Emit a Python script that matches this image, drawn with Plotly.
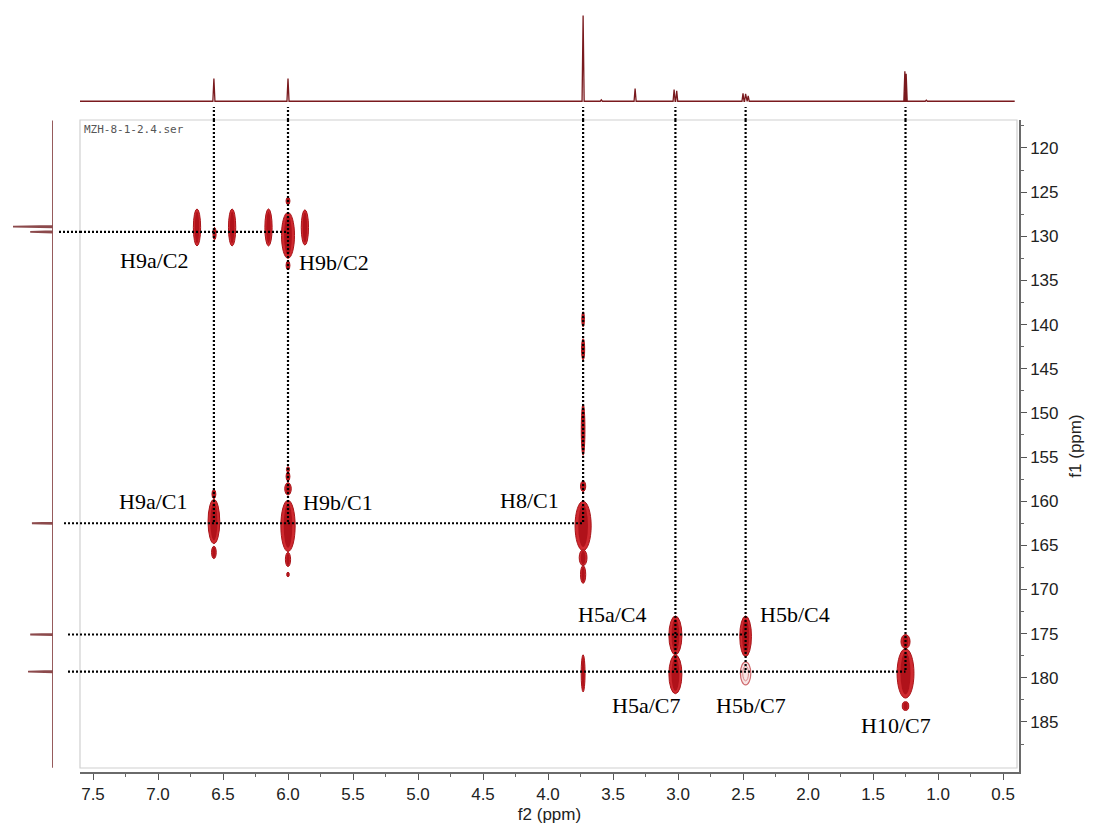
import plotly.graph_objects as go

# ---------------- data ----------------
# 1D proton projection (top): peak positions (ppm) and relative intensities
top_ppm = [6.57, 6.00, 3.73, 3.59, 3.33, 3.03, 3.01, 2.50, 2.48, 2.46, 1.255, 1.245, 1.09]
top_int = [25, 25, 94, 1.5, 13.8, 12.8, 11.5, 8.7, 8.2, 6.0, 33, 30, 1.2]

# 1D carbon projection (left): peak positions (ppm) and relative intensities
left_ppm = [128.9, 129.5, 162.5, 175.1, 179.3]
left_int = [0.93, 0.53, 0.49, 0.53, 0.58]

# HMBC cross peaks: f2 (ppm), f1 (ppm), half-width f2, half-height f1, style (1 = solid, 0 = faint)
pk_f2 = [6.70, 6.565, 6.43, 6.15, 6.00, 6.00, 6.00, 5.87,
         6.57, 6.57, 6.57,
         6.00, 6.00, 6.00, 6.00, 6.00, 6.00,
         3.73, 3.73, 3.73, 3.73, 3.73, 3.73, 3.73, 3.73,
         3.02, 3.02, 2.48, 2.48, 1.25, 1.25, 1.25]
pk_f1 = [129.0, 129.7, 129.0, 129.0, 129.9, 126.0, 133.3, 129.0,
         162.3, 159.2, 165.8,
         162.8, 158.6, 157.2, 156.4, 166.6, 168.3,
         139.4, 142.8, 151.9, 158.3, 162.8, 166.4, 168.3, 179.5,
         175.2, 179.6, 175.3, 179.5, 175.9, 179.5, 183.2]
pk_w = [0.028, 0.012, 0.028, 0.028, 0.050, 0.015, 0.015, 0.028,
        0.045, 0.015, 0.018,
        0.055, 0.025, 0.015, 0.012, 0.020, 0.010,
        0.010, 0.012, 0.014, 0.020, 0.062, 0.030, 0.020, 0.015,
        0.050, 0.050, 0.045, 0.040, 0.035, 0.065, 0.025]
pk_h = [2.1, 0.7, 2.1, 2.1, 2.6, 0.4, 0.5, 2.0,
        2.5, 0.5, 0.7,
        2.9, 0.7, 0.5, 0.3, 0.8, 0.25,
        0.85, 1.2, 2.9, 0.6, 2.8, 0.9, 1.0, 2.1,
        2.2, 2.2, 2.3, 1.3, 0.8, 2.8, 0.5]
pk_style = [1, 1, 1, 1, 1, 1, 1, 1,
            1, 1, 1,
            1, 1, 1, 1, 1, 1,
            1, 1, 1, 1, 1, 1, 1, 1,
            1, 1, 1, 0, 1, 1, 1]

# correlation guide lines
v_f2 = [6.57, 6.00, 3.73, 3.02, 2.48, 1.25]
v_end_f1 = [162.5, 162.5, 162.5, 179.3, 179.3, 179.3]
h_f1 = [129.5, 162.5, 175.1, 179.3]
h_end_f2 = [6.00, 3.73, 2.48, 1.25]
h_start_px = [59, 64, 68, 68]

# assignment labels
lab_text = ["H9a/C2", "H9b/C2", "H9a/C1", "H9b/C1", "H8/C1",
            "H5a/C4", "H5b/C4", "H5a/C7", "H5b/C7", "H10/C7"]
lab_f2 = [7.03, 5.65, 7.04, 5.615, 4.14, 3.51, 2.10, 3.25, 2.44, 1.32]
lab_f1 = [132.7, 133.0, 160.0, 160.1, 159.9, 172.8, 172.8, 183.1, 183.1, 185.35]

x_ticks = [7.5, 7.0, 6.5, 6.0, 5.5, 5.0, 4.5, 4.0, 3.5, 3.0, 2.5, 2.0, 1.5, 1.0, 0.5]
y_ticks = [120, 125, 130, 135, 140, 145, 150, 155, 160, 165, 170, 175, 180, 185]

# ---------------- layout geometry ----------------
W, H = 1097, 828
ML, MR, MT, MB = 0, 78, 8, 56
PW = W - ML - MR
PH = H - MT - MB
X_RANGE = [7.6, 0.377]
Y_RANGE = [190.67, 116.83]


def px_x(p):
    return (p - ML) / PW


def px_y(p):
    return (H - MB - p) / PH


main_xdom = [px_x(80), 1.0]
main_ydom = [0.0, px_y(120)]
top_ydom = [px_y(104), px_y(10)]
left_xdom = [px_x(10), px_x(53)]

# ---------------- traces ----------------
# top projection built as narrow peaks on a baseline
pw = 0.008
order = sorted(range(len(top_ppm)), key=lambda i: -top_ppm[i])
tx, ty = [7.6], [0]
for i in order:
    tx += [top_ppm[i] + pw, top_ppm[i], top_ppm[i] - pw]
    ty += [0, top_int[i], 0]
tx.append(0.41)
ty.append(0)

# left projection
lw = 0.08
lorder = sorted(range(len(left_ppm)), key=lambda i: left_ppm[i])
ly, lx = [116.9], [0]
for i in lorder:
    ly += [left_ppm[i] - lw, left_ppm[i], left_ppm[i] + lw]
    lx += [0, left_int[i], 0]
ly.append(190.2)
lx.append(0)

fig = go.Figure()
fig.add_trace(go.Scatter(x=tx, y=ty, mode="lines", xaxis="x2", yaxis="y2",
                         line=dict(color="#7a1a1e", width=1.3), hoverinfo="skip",
                         showlegend=False))
fig.add_trace(go.Scatter(x=lx, y=ly, mode="lines", xaxis="x3", yaxis="y3",
                         line=dict(color="#8c4a4c", width=1.8), hoverinfo="skip",
                         showlegend=False))
# invisible trace to anchor the main axes
fig.add_trace(go.Scatter(x=[pk_f2[0]], y=[pk_f1[0]], mode="markers",
                         marker=dict(opacity=0), showlegend=False, hoverinfo="skip"))

shapes = []
# plot frame
shapes.append(dict(type="rect", xref="paper", yref="paper",
                   x0=px_x(80), x1=px_x(1017), y0=px_y(768), y1=px_y(120),
                   line=dict(color="#d0d0d0", width=1.2), layer="below"))

# cross peaks
for f2, f1, w, h, s in zip(pk_f2, pk_f1, pk_w, pk_h, pk_style):
    if s == 1:
        shapes.append(dict(type="circle", xref="x", yref="y",
                           x0=f2 - w, x1=f2 + w, y0=f1 - h, y1=f1 + h,
                           fillcolor="#cf2a30", line=dict(color="#a81419", width=1)))
        shapes.append(dict(type="circle", xref="x", yref="y",
                           x0=f2 - w * 0.6, x1=f2 + w * 0.6, y0=f1 - h * 0.85, y1=f1 + h * 0.85,
                           fillcolor="#b0121a", line=dict(width=0)))
    else:
        shapes.append(dict(type="circle", xref="x", yref="y",
                           x0=f2 - w, x1=f2 + w, y0=f1 - h, y1=f1 + h,
                           fillcolor="rgba(240,200,200,0.5)", line=dict(color="#cf6a6e", width=1.2)))
        shapes.append(dict(type="circle", xref="x", yref="y",
                           x0=f2 - w * 0.55, x1=f2 + w * 0.55, y0=f1 - h * 0.65, y1=f1 + h * 0.65,
                           fillcolor="rgba(0,0,0,0)", line=dict(color="#d88a8c", width=1)))

dot = dict(color="black", width=2.2, dash="2px,2px")
# vertical guide lines
for f2, f1e in zip(v_f2, v_end_f1):
    shapes.append(dict(type="line", xref="x", yref="y", x0=f2, x1=f2,
                       y0=Y_RANGE[1], y1=f1e, line=dot))
    shapes.append(dict(type="line", xref="x", yref="paper", x0=f2, x1=f2,
                       y0=px_y(120), y1=px_y(107), line=dot))
# horizontal guide lines
for f1, f2e, sp in zip(h_f1, h_end_f2, h_start_px):
    shapes.append(dict(type="line", xref="x", yref="y", x0=X_RANGE[0], x1=f2e,
                       y0=f1, y1=f1, line=dot))
    shapes.append(dict(type="line", xref="paper", yref="y", x0=px_x(sp), x1=px_x(80),
                       y0=f1, y1=f1, line=dot))

annotations = []
for t, x, y in zip(lab_text, lab_f2, lab_f1):
    annotations.append(dict(text=t, x=x, y=y, xref="x", yref="y", showarrow=False,
                            xanchor="center", yanchor="middle",
                            font=dict(family="Liberation Serif, Times New Roman, serif",
                                      size=22, color="black")))
annotations.append(dict(text="MZH-8-1-2.4.ser", x=px_x(82), y=px_y(129), xref="paper", yref="paper",
                        showarrow=False, xanchor="left", yanchor="middle",
                        font=dict(family="DejaVu Sans Mono, monospace", size=11, color="#555")))

axis_font = dict(family="Liberation Sans, Arial, sans-serif", size=17, color="#222")

fig.update_layout(
    width=W, height=H,
    margin=dict(l=ML, r=MR, t=MT, b=MB),
    paper_bgcolor="white", plot_bgcolor="white",
    showlegend=False,
    shapes=shapes,
    annotations=annotations,
    xaxis=dict(domain=main_xdom, range=X_RANGE, tickmode="array", tickvals=x_ticks,
               ticktext=[f"{v:.1f}" for v in x_ticks],
               showgrid=False, zeroline=False, showline=True, linecolor="#6a6a6a", linewidth=1.5,
               ticks="outside", ticklen=6, tickcolor="#555", tickwidth=1,
               minor=dict(tickmode="array", tickvals=[v - 0.25 for v in x_ticks if v - 0.25 > 0.38],
                          ticks="outside", ticklen=3, tickcolor="#666"),
               tickfont=axis_font,
               title=dict(text="f2 (ppm)", font=axis_font, standoff=5),
               anchor="y"),
    yaxis=dict(domain=main_ydom, range=Y_RANGE, side="right", tickmode="array",
               tickvals=y_ticks, ticktext=[str(v) for v in y_ticks],
               showgrid=False, zeroline=False, showline=True, linecolor="#6a6a6a", linewidth=1.5,
               ticks="outside", ticklen=6, tickcolor="#555", tickwidth=1,
               minor=dict(tickmode="array", tickvals=[v - 2.5 for v in y_ticks] + [187.5],
                          ticks="outside", ticklen=3, tickcolor="#666"),
               tickfont=axis_font,
               title=dict(text="f1 (ppm)", font=axis_font, standoff=12),
               anchor="x"),
    xaxis2=dict(domain=main_xdom, range=X_RANGE, visible=False, anchor="y2"),
    yaxis2=dict(domain=top_ydom, range=[-3, 100], visible=False, anchor="x2"),
    xaxis3=dict(domain=left_xdom, range=[1.0, 0.0], visible=False, anchor="y3"),
    yaxis3=dict(domain=main_ydom, range=Y_RANGE, visible=False, anchor="x3"),
)

fig.write_html("out.html")
